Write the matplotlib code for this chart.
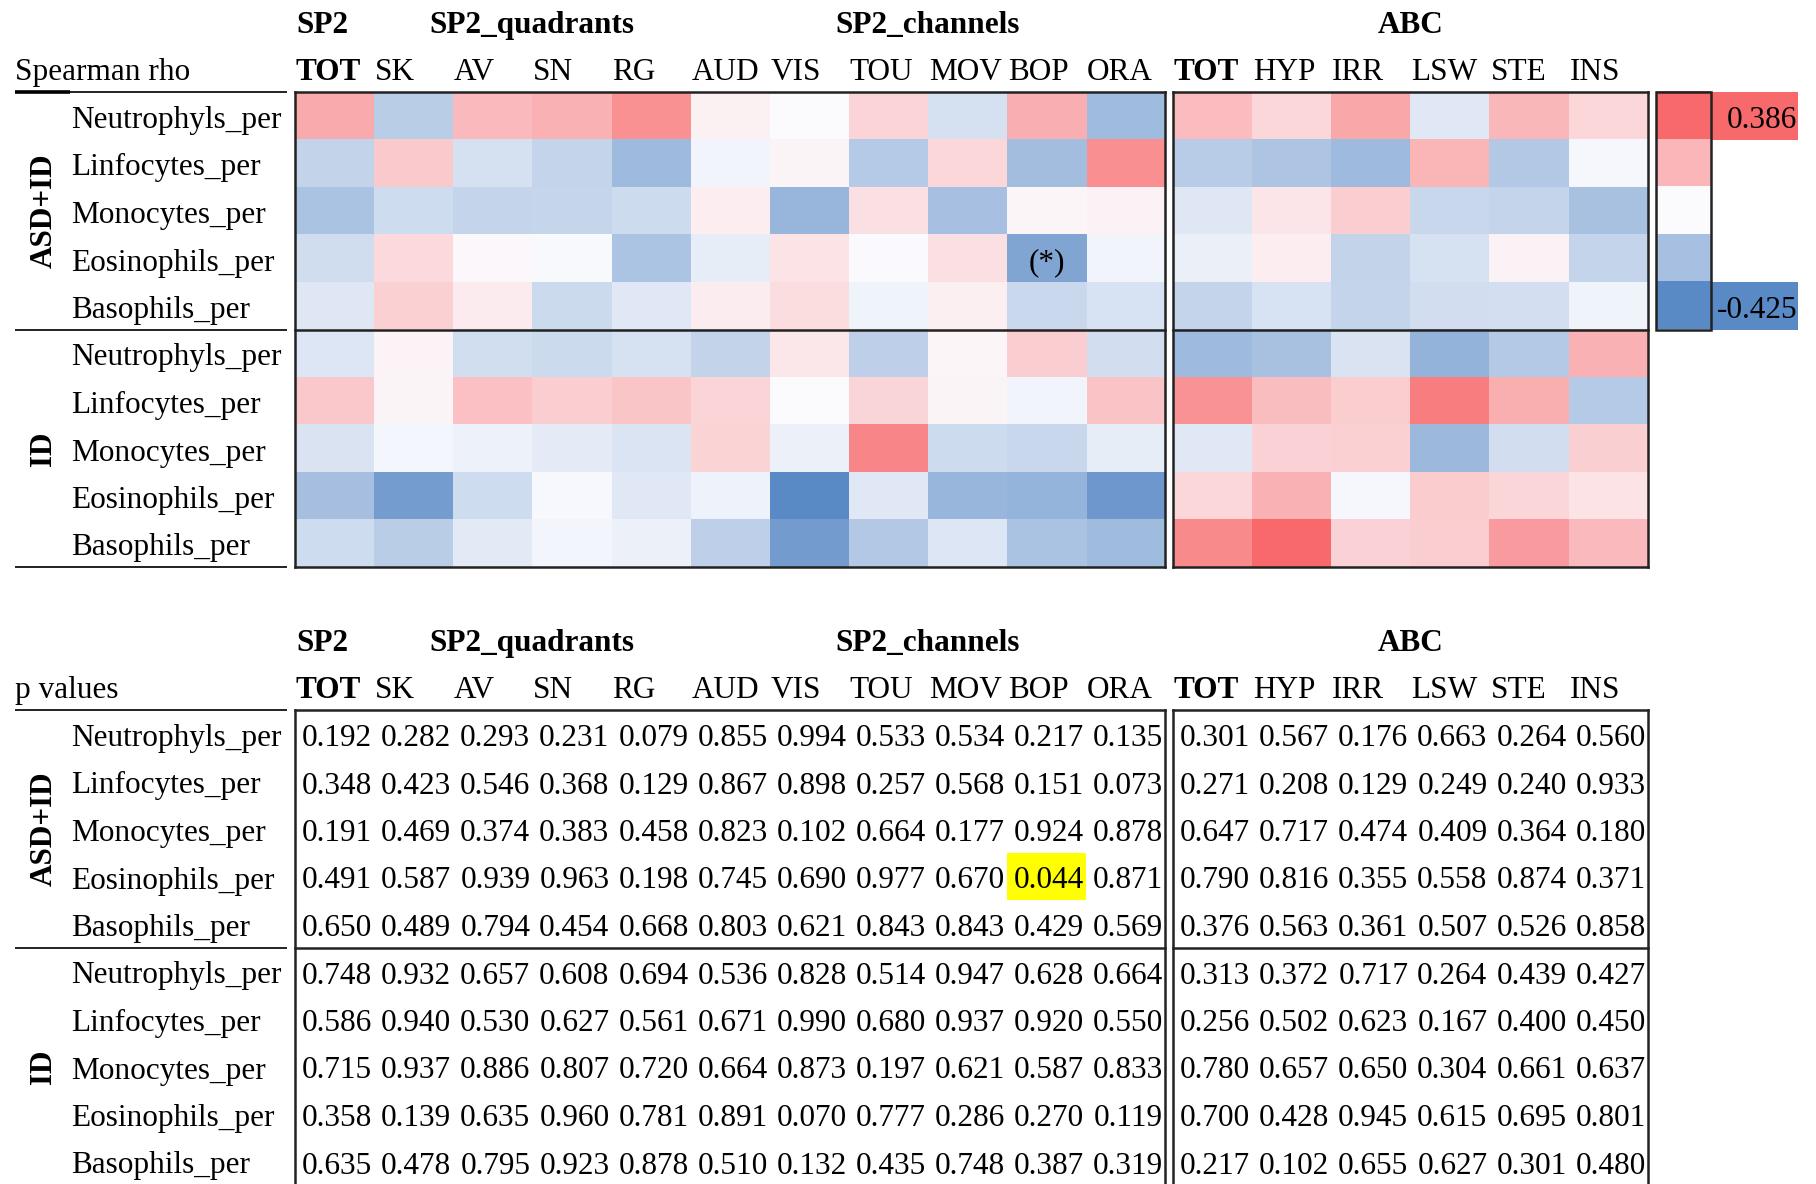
import matplotlib
matplotlib.use('Agg')
import matplotlib.pyplot as plt
import matplotlib.colors as mcolors
import numpy as np

plt.rcParams['font.family'] = ['Liberation Serif', 'DejaVu Serif']

# ---- data ----
rows = ['Neutrophyls_per', 'Linfocytes_per', 'Monocytes_per', 'Eosinophils_per', 'Basophils_per']
groups = ['ASD+ID', 'ID']
cols_sp2 = ['TOT', 'SK', 'AV', 'SN', 'RG', 'AUD', 'VIS', 'TOU', 'MOV', 'BOP', 'ORA']
cols_abc = ['TOT', 'HYP', 'IRR', 'LSW', 'STE', 'INS']
sp2_headers = [('SP2', 0, 1), ('SP2_quadrants', 1, 4), ('SP2_channels', 5, 6)]
abc_header = 'ABC'

# Spearman rho
rho_asd_sp2 = [
    [0.212, -0.174, 0.171, 0.193, 0.280, 0.030, 0.001, 0.103, -0.102, 0.200, -0.240],
    [-0.152, 0.131, -0.100, -0.146, -0.243, -0.028, 0.021, -0.183, 0.094, -0.230, 0.285],
    [-0.212, -0.119, -0.144, -0.142, -0.122, 0.037, -0.260, 0.072, -0.220, 0.016, 0.025],
    [-0.113, 0.089, 0.012, -0.007, -0.208, -0.054, 0.066, -0.005, 0.070, -0.320, -0.027],
    [-0.075, 0.114, 0.043, -0.123, -0.071, 0.041, 0.082, -0.033, 0.033, -0.130, -0.094],
]
rho_asd_abc = [
    [0.168, 0.094, 0.220, -0.072, 0.180, 0.096],
    [-0.178, -0.204, -0.243, 0.186, -0.190, -0.014],
    [-0.076, 0.060, 0.118, -0.135, -0.147, -0.218],
    [-0.044, 0.039, -0.150, -0.097, 0.026, -0.145],
    [-0.144, -0.095, -0.148, -0.109, -0.104, -0.030],
]
rho_id_sp2 = [
    [-0.081, 0.022, -0.110, -0.126, -0.098, -0.152, 0.056, -0.160, 0.017, 0.119, -0.107],
    [0.135, 0.020, 0.155, 0.120, 0.144, 0.105, -0.003, 0.102, 0.021, -0.027, 0.147],
    [-0.091, -0.021, -0.037, -0.062, -0.089, 0.107, -0.042, 0.310, -0.122, -0.135, -0.054],
    [-0.225, -0.352, -0.117, -0.013, -0.070, -0.036, -0.425, -0.071, -0.260, -0.268, -0.370],
    [-0.117, -0.174, -0.066, -0.026, -0.040, -0.162, -0.358, -0.191, -0.081, -0.212, -0.242],
]
rho_id_abc = [
    [-0.245, -0.219, -0.090, -0.272, -0.189, 0.194],
    [0.276, 0.165, 0.121, 0.330, 0.205, -0.185],
    [-0.070, 0.110, 0.112, -0.250, -0.108, 0.116],
    [0.095, 0.194, -0.018, 0.124, 0.098, 0.064],
    [0.298, 0.386, 0.110, 0.120, 0.251, 0.173],
]

# p values
p_asd_sp2 = [
    [0.192, 0.282, 0.293, 0.231, 0.079, 0.855, 0.994, 0.533, 0.534, 0.217, 0.135],
    [0.348, 0.423, 0.546, 0.368, 0.129, 0.867, 0.898, 0.257, 0.568, 0.151, 0.073],
    [0.191, 0.469, 0.374, 0.383, 0.458, 0.823, 0.102, 0.664, 0.177, 0.924, 0.878],
    [0.491, 0.587, 0.939, 0.963, 0.198, 0.745, 0.690, 0.977, 0.670, 0.044, 0.871],
    [0.650, 0.489, 0.794, 0.454, 0.668, 0.803, 0.621, 0.843, 0.843, 0.429, 0.569],
]
p_asd_abc = [
    [0.301, 0.567, 0.176, 0.663, 0.264, 0.560],
    [0.271, 0.208, 0.129, 0.249, 0.240, 0.933],
    [0.647, 0.717, 0.474, 0.409, 0.364, 0.180],
    [0.790, 0.816, 0.355, 0.558, 0.874, 0.371],
    [0.376, 0.563, 0.361, 0.507, 0.526, 0.858],
]
p_id_sp2 = [
    [0.748, 0.932, 0.657, 0.608, 0.694, 0.536, 0.828, 0.514, 0.947, 0.628, 0.664],
    [0.586, 0.940, 0.530, 0.627, 0.561, 0.671, 0.990, 0.680, 0.937, 0.920, 0.550],
    [0.715, 0.937, 0.886, 0.807, 0.720, 0.664, 0.873, 0.197, 0.621, 0.587, 0.833],
    [0.358, 0.139, 0.635, 0.960, 0.781, 0.891, 0.070, 0.777, 0.286, 0.270, 0.119],
    [0.635, 0.478, 0.795, 0.923, 0.878, 0.510, 0.132, 0.435, 0.748, 0.387, 0.319],
]
p_id_abc = [
    [0.313, 0.372, 0.717, 0.264, 0.439, 0.427],
    [0.256, 0.502, 0.623, 0.167, 0.400, 0.450],
    [0.780, 0.657, 0.650, 0.304, 0.661, 0.637],
    [0.700, 0.428, 0.945, 0.615, 0.695, 0.801],
    [0.217, 0.102, 0.655, 0.627, 0.301, 0.480],
]

# colour legend cells (top to bottom)
legend_vals = [0.386, 0.183, 0.0, -0.222, -0.425]

# ---- layout (pixels) ----
W, H = 1816, 1184
FS = 22.5
X_SP2, X_ABC, CW = 295, 1173, 79.1
RH = 47.5
TOP_HEAT, TOP_P = 92, 710
LBL_X0, LBL_X1 = 15, 287
ROW_LBL_X, GRP_X = 71, 44
CB_X0, CB_X1, CB_LBL_X1 = 1656, 1711, 1798
LINE_C = '#222222'

cmap = mcolors.LinearSegmentedColormap.from_list('xl', ['#5A8AC6', '#FCFCFF', '#F8696B'])
norm = mcolors.TwoSlopeNorm(vmin=-0.425, vcenter=0.0, vmax=0.386)

fig = plt.figure(figsize=(W / 100, H / 100), dpi=100)
ax = fig.add_axes([0, 0, 1, 1])

rho_sp2 = np.vstack([rho_asd_sp2, rho_id_sp2])
rho_abc = np.vstack([rho_asd_abc, rho_id_abc])
p_sp2 = np.vstack([p_asd_sp2, p_id_sp2])
p_abc = np.vstack([p_asd_abc, p_id_abc])
nrow = rho_sp2.shape[0]


def draw_headers(top, title):
    base_grp = top - 59
    base_col = top - 12
    for lab, c0, n in sp2_headers:
        if n == 1:
            ax.text(X_SP2 + c0 * CW + 1, base_grp, lab, fontsize=FS, fontweight='bold',
                    ha='left', va='baseline')
        else:
            ax.text(X_SP2 + (c0 + n / 2) * CW, base_grp, lab, fontsize=FS, fontweight='bold',
                    ha='center', va='baseline')
    ax.text(X_ABC + len(cols_abc) / 2 * CW, base_grp, abc_header, fontsize=FS,
            fontweight='bold', ha='center', va='baseline')
    for x0, cols in ((X_SP2, cols_sp2), (X_ABC, cols_abc)):
        for j, c in enumerate(cols):
            ax.text(x0 + j * CW + 1, base_col, c, fontsize=FS, ha='left', va='baseline',
                    fontweight='bold' if j == 0 else 'normal')
    ax.text(LBL_X0, base_col, title, fontsize=FS, ha='left', va='baseline')


def draw_row_labels(top):
    for g, grp in enumerate(groups):
        gy = top + g * len(rows) * RH
        ax.text(GRP_X, gy + len(rows) * RH / 2, grp, fontsize=FS, fontweight='bold',
                rotation=90, ha='center', va='center')
        for i, r in enumerate(rows):
            ax.text(ROW_LBL_X, gy + i * RH + 36, r, fontsize=FS, ha='left', va='baseline')
    for k in range(len(groups) + 1):
        y = top + k * len(rows) * RH
        if y <= H:
            ax.plot([LBL_X0, LBL_X1], [y, y], color=LINE_C, lw=1.4, solid_capstyle='butt')


def draw_frame(top, x0, ncol, bottom):
    x1 = x0 + ncol * CW
    ax.plot([x0, x0], [top, bottom], color=LINE_C, lw=1.8)
    ax.plot([x1, x1], [top, bottom], color=LINE_C, lw=1.8)
    ax.plot([x0, x1], [top, top], color=LINE_C, lw=1.8)
    mid = top + len(rows) * RH
    ax.plot([x0, x1], [mid, mid], color=LINE_C, lw=1.8)
    if bottom <= H - 1:
        ax.plot([x0, x1], [bottom, bottom], color=LINE_C, lw=1.8)


# ---- top: heatmap of rho ----
draw_headers(TOP_HEAT, 'Spearman rho')
draw_row_labels(TOP_HEAT)
ax.plot([LBL_X0, 70], [TOP_HEAT, TOP_HEAT], color='black', lw=2.6, solid_capstyle='butt')
heat_bottom = TOP_HEAT + nrow * RH
for x0, data, pv in ((X_SP2, rho_sp2, p_sp2), (X_ABC, rho_abc, p_abc)):
    ncol = data.shape[1]
    ax.imshow(data, cmap=cmap, norm=norm, aspect='auto', interpolation='nearest',
              extent=(x0, x0 + ncol * CW, heat_bottom, TOP_HEAT))
    for i, j in zip(*np.where(pv < 0.05)):
        ax.text(x0 + (j + 0.5) * CW, TOP_HEAT + i * RH + 36, '(*)', fontsize=FS,
                ha='center', va='baseline')
    draw_frame(TOP_HEAT, x0, ncol, heat_bottom)

# legend column
leg = np.array(legend_vals).reshape(-1, 1)
leg_bottom = TOP_HEAT + len(legend_vals) * RH
ax.imshow(leg, cmap=cmap, norm=norm, aspect='auto', interpolation='nearest',
          extent=(CB_X0, CB_X1, leg_bottom, TOP_HEAT))
for k in (0, len(legend_vals) - 1):
    y = TOP_HEAT + k * RH
    ax.add_patch(plt.Rectangle((CB_X1, y), CB_LBL_X1 - CB_X1, RH,
                               color=cmap(norm(legend_vals[k])), lw=0))
    ax.text(CB_LBL_X1 - 1, y + 36, f'{legend_vals[k]:.3f}', fontsize=FS,
            ha='right', va='baseline')
ax.add_patch(plt.Rectangle((CB_X0, TOP_HEAT), CB_X1 - CB_X0, leg_bottom - TOP_HEAT,
                           fill=False, ec=LINE_C, lw=1.8))

# ---- bottom: p values ----
draw_headers(TOP_P, 'p values')
draw_row_labels(TOP_P)
p_bottom = TOP_P + nrow * RH
for x0, pv in ((X_SP2, p_sp2), (X_ABC, p_abc)):
    ncol = pv.shape[1]
    for i in range(nrow):
        for j in range(ncol):
            if pv[i, j] < 0.05:
                ax.add_patch(plt.Rectangle((x0 + j * CW, TOP_P + i * RH), CW, RH,
                                           color='#FFFF00', lw=0))
            ax.text(x0 + (j + 1) * CW - 2, TOP_P + i * RH + 36, f'{pv[i, j]:.3f}',
                    fontsize=FS, ha='right', va='baseline')
    draw_frame(TOP_P, x0, ncol, p_bottom + 5)

ax.set_xlim(0, W)
ax.set_ylim(H, 0)
ax.axis('off')
fig.savefig('out.png', dpi=100, facecolor='white')
